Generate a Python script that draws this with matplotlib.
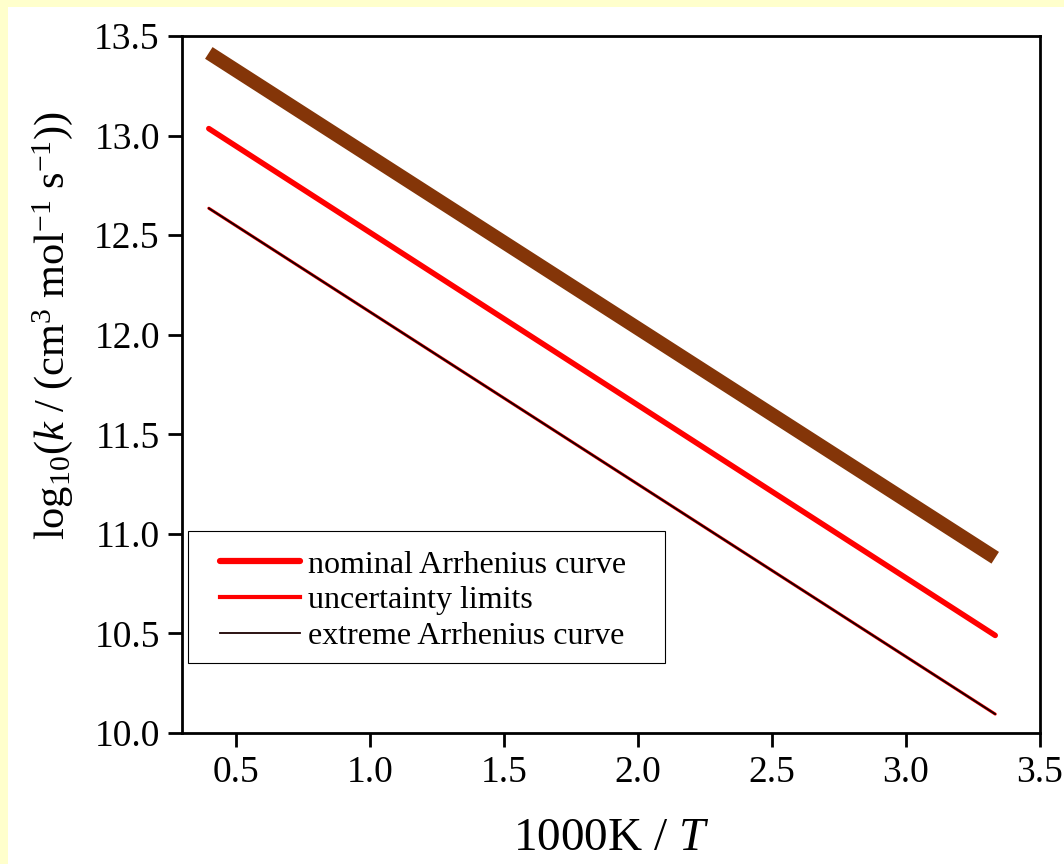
import numpy as np
import matplotlib.pyplot as plt
from matplotlib.patches import Rectangle

# data (x = 1000K/T, y = log10 k)
inv_T = [0.40, 3.333]
nominal = [13.415, 10.88]
uncert = [13.035, 10.49]
extreme = [12.635, 10.095]

plt.rcParams['font.family'] = ['Liberation Serif', 'DejaVu Serif']
plt.rcParams['mathtext.fontset'] = 'custom'
plt.rcParams['mathtext.rm'] = 'Liberation Serif'
plt.rcParams['mathtext.it'] = 'Liberation Serif:italic'

fig = plt.figure(figsize=(10.64, 8.64), dpi=100, facecolor='#FFFFCC')
fig.patches.append(Rectangle((8/1064, 0), 1, 1 - 7/864, transform=fig.transFigure,
                             facecolor='white', edgecolor='none', zorder=-1))
ax = fig.add_axes([182/1064, 1 - 733/864, 858/1064, 697/864])

ax.plot(inv_T, nominal, color='#843508', lw=10, solid_capstyle='butt')
ax.plot(inv_T, uncert, color='red', lw=4, solid_capstyle='round')
ax.plot(inv_T, extreme, color='red', lw=2.2, solid_capstyle='round')
ax.plot(inv_T, extreme, color='#1a0000', lw=1.4, solid_capstyle='round')

# legend handles (as drawn in the original)
h1, = ax.plot([], [], color='red', lw=4.5, solid_capstyle='round')
h2, = ax.plot([], [], color='red', lw=3)
h3, = ax.plot([], [], color='#1a0000', lw=1.3)
leg = ax.legend([h1, h2, h3],
                ['nominal Arrhenius curve', 'uncertainty limits', 'extreme Arrhenius curve'],
                loc='center left', bbox_to_anchor=(0.044, 0.19), fontsize=23,
                handlelength=2.5, handletextpad=0.25, labelspacing=0.2,
                borderpad=0, borderaxespad=0, frameon=False)
# legend frame
ax.add_patch(Rectangle((0.007, 0.1004), 0.556, 0.1894, transform=ax.transAxes,
                       facecolor='white', edgecolor='black', lw=0.8, zorder=4))
leg.set_zorder(5)

ax.set_xlim(0.3, 3.5)
ax.set_ylim(10.0, 13.5)
ax.set_xticks(np.arange(0.5, 3.51, 0.5))
ax.set_yticks(np.arange(10.0, 13.51, 0.5))
ax.xaxis.set_major_formatter(plt.FormatStrFormatter('%.1f'))
ax.yaxis.set_major_formatter(plt.FormatStrFormatter('%.1f'))
ax.tick_params(direction='out', length=10, width=2, labelsize=27, pad=6)
for s in ax.spines.values():
    s.set_linewidth(2)

ax.set_xlabel(r'1000K / $\mathit{T}$', fontsize=34, labelpad=20)
ax.set_ylabel(r'$\mathregular{log_{10}(}\mathit{k}\mathregular{\ /\ (cm^{3}\ mol^{-1}\ s^{-1}))}$',
              fontsize=30.5, labelpad=14)
ax.yaxis.label.set_y(0.585)

fig.savefig('out.png', dpi=100, facecolor=fig.get_facecolor())
